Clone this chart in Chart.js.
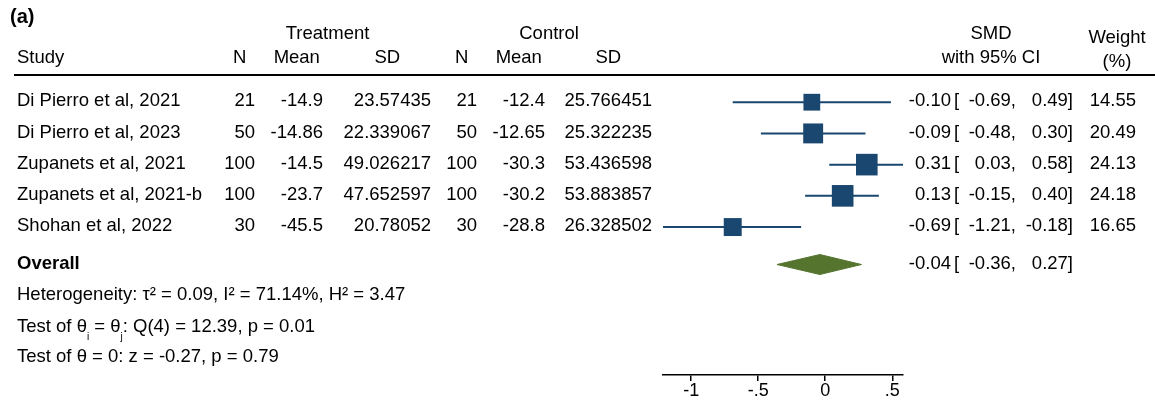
<!DOCTYPE html>
<html>
<head>
<meta charset="utf-8">
<title>Forest plot (a)</title>
<script src="https://cdn.jsdelivr.net/npm/chart.js@4.4.1/dist/chart.umd.min.js"></script>
<style>
    html, body { margin: 0; padding: 0; background: #fff; }
    #forest { display: block; }
</style>
</head>
<body>
<canvas id="forest" width="1155" height="401"></canvas>
<script>
// Datos del forest plot
const studies = ['Di Pierro et al, 2021', 'Di Pierro et al, 2023', 'Zupanets et al, 2021',
    'Zupanets et al, 2021-b', 'Shohan et al, 2022'];
const treatN = [21, 50, 100, 100, 30];
const treatMean = [-14.9, -14.86, -14.5, -23.7, -45.5];
const treatSD = [23.57435, 22.339067, 49.026217, 47.652597, 20.78052];
const controlN = [21, 50, 100, 100, 30];
const controlMean = [-12.4, -12.65, -30.3, -30.2, -28.8];
const controlSD = [25.766451, 25.322235, 53.436598, 53.883857, 26.328502];
const smd = [-0.10, -0.09, 0.31, 0.13, -0.69];
const ciLow = [-0.69, -0.48, 0.03, -0.15, -1.21];
const ciHigh = [0.49, 0.30, 0.58, 0.40, -0.18];
const weights = [14.55, 20.49, 24.13, 24.18, 16.65];

const overall = [-0.04, -0.36, 0.27]; // SMD, CI inferior, CI superior
const heterogeneityText = 'Heterogeneity: \u03C4\u00B2 = 0.09, I\u00B2 = 71.14%, H\u00B2 = 3.47';
const qTestText = ': Q(4) = 12.39, p = 0.01';
const zTestText = 'Test of \u03B8 = 0: z = -0.27, p = 0.79';

const tickValues = [-1, -0.5, 0, 0.5];
const tickLabels = ['-1', '-.5', '0', '.5'];

// Estilo
const NAVY = '#1a476f';
const GREEN = '#55752f';
const FONT = "'Liberation Sans', Arial, Helvetica, sans-serif";
const FS = 18.5;
const OVERALL_ROW = 6.2;
const STAT_ROWS = [7.2, 8.22, 9.19];

const fmt2 = v => v.toFixed(2);

// Dibuja las columnas de texto usando la escala y del propio gráfico
const textPlugin = {
    id: 'forestText',
    afterDraw(chart) {
        const ctx = chart.ctx;
        const yScale = chart.scales.y;
        const rowY = v => yScale.getPixelForValue(v) - 1;
        ctx.save();
        ctx.fillStyle = '#000';
        ctx.textBaseline = 'middle';
        const font = (bold, size) => (bold ? 'bold ' : '') + (size || FS) + 'px ' + FONT;
        const text = (s, x, y, align, bold, size) => {
            ctx.font = font(bold, size);
            ctx.textAlign = align || 'left';
            ctx.fillText(s, x, y);
        };

        // Columnas (borde derecho) y anchos para centrar los títulos
        const cols = [
            { right: 255, head: 'N', values: treatN },
            { right: 323, head: 'Mean', values: treatMean },
            { right: 431, head: 'SD', values: treatSD },
            { right: 477, head: 'N', values: controlN },
            { right: 545, head: 'Mean', values: controlMean },
            { right: 652, head: 'SD', values: controlSD }
        ];
        ctx.font = font(false);
        cols.forEach(c => {
            const w = Math.max(ctx.measureText(c.head).width,
                ...c.values.map(v => ctx.measureText(String(v)).width));
            c.left = c.right - w;
            c.center = c.right - w / 2;
        });

        // Cabecera
        text('(a)', 10, 17, 'left', true, 20);
        text('Treatment', (cols[0].left + cols[2].right) / 2, 34, 'center');
        text('Control', (cols[3].left + cols[5].right) / 2, 34, 'center');
        text('Study', 17, 58);
        cols.forEach(c => text(c.head, c.center, 58, 'center'));
        text('SMD', 991, 34, 'center');
        text('with 95% CI', 991, 58, 'center');
        text('Weight', 1117, 38, 'center');
        text('(%)', 1117, 62, 'center');

        ctx.strokeStyle = '#000';
        ctx.lineWidth = 2;
        ctx.beginPath();
        ctx.moveTo(14, 75);
        ctx.lineTo(1155, 75);
        ctx.stroke();

        const ciText = (est, lo, hi, y) => {
            text(fmt2(est), 951, y, 'right');
            text('[', 954, y, 'left');
            text(fmt2(lo) + ',', 1016, y, 'right');
            text(fmt2(hi) + ']', 1073, y, 'right');
        };

        // Filas de estudios
        studies.forEach((s, i) => {
            const y = rowY(i + 1);
            text(s, 17, y);
            cols.forEach(c => text(String(c.values[i]), c.right, y, 'right'));
            ciText(smd[i], ciLow[i], ciHigh[i], y);
            text(fmt2(weights[i]), 1136, y, 'right');
        });

        // Resultado global
        const yo = rowY(OVERALL_ROW);
        text('Overall', 17, yo, 'left', true);
        ciText(overall[0], overall[1], overall[2], yo);

        text(heterogeneityText, 17, rowY(STAT_ROWS[0]));

        // Test of θi = θj con subíndices
        let x = 17;
        const yq = rowY(STAT_ROWS[1]);
        const pieces = [['Test of \u03B8', false], ['i', true], [' = \u03B8', false], ['j', true], [qTestText, false]];
        pieces.forEach(([s, sub]) => {
            ctx.font = font(false, sub ? 10 : FS);
            ctx.textAlign = 'left';
            ctx.fillText(s, x, sub ? yq + 11 : yq);
            x += ctx.measureText(s).width;
        });

        text(zTestText, 17, rowY(STAT_ROWS[2]));
        ctx.restore();
    }
};

// Conjuntos de datos
const boxSide = w => 4.4 * Math.sqrt(w);

const datasets = [];
datasets.push({
    label: 'SMD',
    data: studies.map((s, i) => ({ x: smd[i], y: i + 1 })),
    pointStyle: 'rect',
    pointRadius: ctx => boxSide(weights[ctx.dataIndex]) / (2 * Math.SQRT1_2),
    backgroundColor: NAVY,
    borderColor: NAVY,
    borderWidth: 0,
    clip: false
});
datasets.push({
    label: 'Overall',
    data: [
        { x: overall[1], y: OVERALL_ROW },
        { x: overall[0], y: OVERALL_ROW - 0.32 },
        { x: overall[2], y: OVERALL_ROW },
        { x: overall[0], y: OVERALL_ROW + 0.32 },
        { x: overall[1], y: OVERALL_ROW }
    ],
    showLine: true,
    fill: 'shape',
    backgroundColor: GREEN,
    borderColor: GREEN,
    borderWidth: 1,
    pointRadius: 0,
    tension: 0,
    clip: false
});
studies.forEach((s, i) => {
    datasets.push({
        label: 'CI ' + s,
        data: [{ x: ciLow[i], y: i + 1 }, { x: ciHigh[i], y: i + 1 }],
        showLine: true,
        borderColor: NAVY,
        borderWidth: 2,
        pointRadius: 0,
        fill: false,
        clip: false
    });
});

new Chart(document.getElementById('forest'), {
    type: 'scatter',
    data: { datasets },
    options: {
        responsive: false,
        devicePixelRatio: 1,
        animation: false,
        events: [],
        layout: { padding: { left: 663, right: 252, top: 71, bottom: 0 } },
        plugins: { legend: { display: false }, tooltip: { enabled: false } },
        scales: {
            x: {
                type: 'linear',
                position: 'bottom',
                min: Math.min(...ciLow),
                max: Math.max(...ciHigh),
                afterBuildTicks: axis => { axis.ticks = tickValues.map(v => ({ value: v })); },
                grid: { drawOnChartArea: false, drawTicks: true, tickLength: 6, color: '#000', lineWidth: 1.5 },
                border: { display: true, color: '#000', width: 1.5 },
                ticks: {
                    padding: 1,
                    color: '#000',
                    font: { family: FONT, size: 18, lineHeight: 1 },
                    maxRotation: 0,
                    callback: (value, index) => tickLabels[index]
                }
            },
            y: {
                type: 'linear',
                display: false,
                reverse: true,
                min: 0,
                max: 9.74
            }
        }
    },
    plugins: [textPlugin]
});
</script>
</body>
</html>
